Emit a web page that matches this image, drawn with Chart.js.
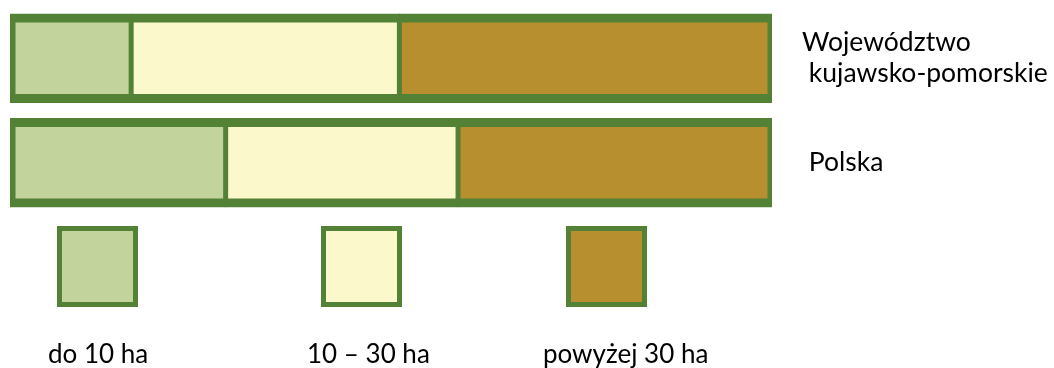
<!DOCTYPE html>
<html>
<head>
<meta charset="utf-8">
<script src="https://cdn.jsdelivr.net/npm/chart.js@4.4.0/dist/chart.umd.min.js"></script>
<style>
  html, body { margin: 0; padding: 0; background: #fff; }
  #wrap { width: 1054px; height: 368px; }
</style>
</head>
<body>
<div id="wrap"><canvas id="farmChart" width="1054" height="368"></canvas></div>
<script>
// udział gospodarstw wg grup obszarowych (%)
const regions = [['Województwo', ' kujawsko-pomorskie'], ' Polska'];
const groups = ['do 10 ha', '10 – 30 ha', 'powyżej 30 ha'];
const small = [15.9, 28.3];
const medium = [35.2, 30.5];
const large = [48.9, 41.2];

const fills = ['#c2d39b', '#fbf8cc', '#b88f2f'];
const edge = '#538135';
const legendLeft = [57, 321, 566];
const labelLeft = [48, 307, 543];

// legenda: kwadrat na gorze, podpis pod spodem
const boxLegend = {
    id: 'boxLegend',
    afterDraw(chart) {
        const ctx = chart.ctx;
        ctx.save();
        chart.data.datasets.forEach((ds, i) => {
            const x = legendLeft[i], y = 226, s = 81, b = 5;
            ctx.fillStyle = edge;
            ctx.fillRect(x, y, s, s);
            ctx.fillStyle = ds.backgroundColor;
            ctx.fillRect(x + b, y + b, s - 2 * b, s - 2 * b);
            ctx.fillStyle = '#000';
            ctx.font = '26px Lato';
            ctx.textAlign = 'left';
            ctx.textBaseline = 'alphabetic';
            ctx.fillText(ds.label, labelLeft[i], 363);
        });
        ctx.restore();
    }
};

const sideWidth = [[6, 3], [3, 3], [3, 5]];
const series = [small, medium, large];

new Chart(document.getElementById('farmChart').getContext('2d'), {
    type: 'bar',
    data: {
        labels: regions,
        datasets: series.map((vals, i) => ({
            label: groups[i],
            data: vals,
            backgroundColor: fills[i],
            borderColor: edge,
            borderSkipped: false,
            borderWidth: { left: sideWidth[i][0], right: sideWidth[i][1], top: 9, bottom: 9 },
            inflateAmount: 0.5,
            barPercentage: 0.847,
            categoryPercentage: 1
        }))
    },
    options: {
        indexAxis: 'y',
        responsive: false,
        animation: false,
        devicePixelRatio: 1,
        layout: { padding: { left: 10, top: 6, bottom: 153, right: 0 } },
        plugins: {
            legend: { display: false },
            tooltip: { enabled: false }
        },
        scales: {
            x: { stacked: true, min: 0, max: 100, display: false },
            y: {
                stacked: true,
                position: 'right',
                grid: { display: false, drawTicks: false },
                border: { display: false },
                ticks: {
                    padding: 30,
                    color: '#000',
                    font: { family: 'Lato', size: 26.5, lineHeight: 1.17 }
                },
                afterFit(scale) {
                    scale.width = 282;
                    scale.paddingTop = 0;
                    scale.paddingBottom = 0;
                }
            }
        }
    },
    plugins: [boxLegend]
});
</script>
</body>
</html>
